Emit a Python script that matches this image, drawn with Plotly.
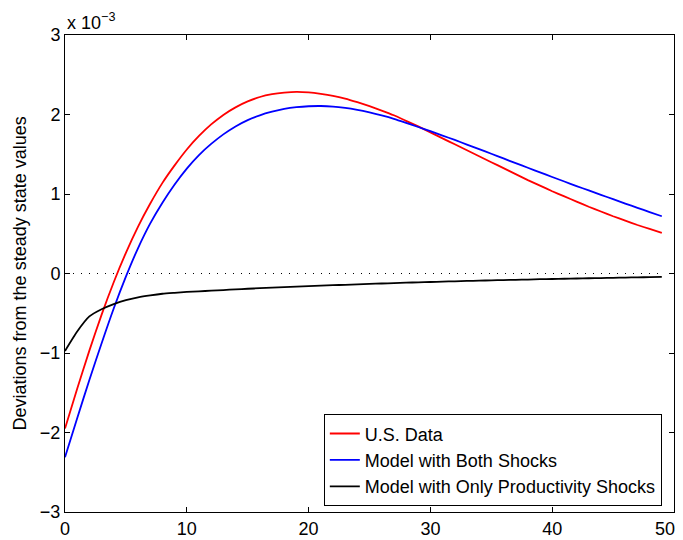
import plotly.graph_objects as go

t = list(range(50))

us_data = [-1.95, -1.45, -0.97, -0.52, -0.11, 0.26, 0.59, 0.88, 1.14, 1.36,
           1.56, 1.73, 1.875, 1.995, 2.09, 2.165, 2.22, 2.255, 2.275, 2.285,
           2.278, 2.26, 2.235, 2.20, 2.155, 2.105, 2.05, 1.99, 1.92, 1.85,
           1.775, 1.70, 1.625, 1.55, 1.475, 1.40, 1.325, 1.25, 1.175, 1.105,
           1.035, 0.97, 0.905, 0.84, 0.78, 0.72, 0.665, 0.61, 0.56, 0.51]

both_shocks = [-2.31, -1.82, -1.34, -0.88, -0.44, -0.04, 0.32, 0.63, 0.89, 1.12,
               1.32, 1.49, 1.63, 1.75, 1.85, 1.93, 1.99, 2.035, 2.07, 2.092,
               2.104, 2.107, 2.10, 2.083, 2.058, 2.026, 1.988, 1.945, 1.895, 1.843,
               1.79, 1.735, 1.68, 1.622, 1.564, 1.506, 1.447, 1.388, 1.33, 1.272,
               1.214, 1.157, 1.10, 1.045, 0.99, 0.935, 0.88, 0.826, 0.773, 0.72]

prod_only = [-0.975, -0.73, -0.54, -0.45, -0.385, -0.335, -0.30, -0.275, -0.255, -0.243,
             -0.232, -0.224, -0.216, -0.208, -0.200, -0.192, -0.185, -0.178, -0.171, -0.165,
             -0.159, -0.153, -0.147, -0.142, -0.136, -0.131, -0.126, -0.121, -0.116, -0.111,
             -0.107, -0.102, -0.098, -0.094, -0.090, -0.086, -0.083, -0.079, -0.076, -0.072,
             -0.069, -0.066, -0.063, -0.060, -0.057, -0.054, -0.051, -0.048, -0.046, -0.043]

zero_line = [0.0] * 50

x_ticks = [0, 10, 20, 30, 40, 50]
# trailing en spaces nudge the last label left so it stays inside the page
x_tick_labels = ["0", "10", "20", "30", "40", "50\u2002\u2002"]
y_ticks = [-3, -2, -1, 0, 1, 2, 3]
y_tick_labels = ["\u22123", "\u22122", "\u22121", "0", "1", "2", "3"]

FONT = "Liberation Sans, Arial, Helvetica, sans-serif"

fig = go.Figure()
fig.add_trace(go.Scatter(x=t, y=zero_line, mode="lines", showlegend=False,
                         line=dict(color="black", width=1, dash="1px,7px")))
fig.add_trace(go.Scatter(x=t, y=us_data, mode="lines", name="U.S. Data",
                         line=dict(color="#ff0000", width=1.8, shape="spline", smoothing=0.6)))
fig.add_trace(go.Scatter(x=t, y=both_shocks, mode="lines", name="Model with Both Shocks",
                         line=dict(color="#0000ff", width=1.8, shape="spline", smoothing=0.6)))
fig.add_trace(go.Scatter(x=t, y=prod_only, mode="lines",
                         name="Model with Only Productivity Shocks",
                         line=dict(color="black", width=1.8, shape="spline", smoothing=0.6)))

axis_common = dict(showgrid=False, zeroline=False, showline=True, linecolor="black",
                   linewidth=1, mirror="ticks", ticks="inside", ticklen=5,
                   tickcolor="black", automargin=False, ticklabeloverflow="allow",
                   tickfont=dict(family=FONT, size=18, color="black"))

# page body has an 8px default margin, so the figure is sized/placed to compensate
fig.update_layout(
    width=675, height=532,
    margin=dict(l=57, r=9, t=27, b=28),
    paper_bgcolor="white", plot_bgcolor="white",
    font=dict(family=FONT, size=18, color="black"),
    xaxis=dict(range=[0, 50], tickvals=x_ticks, ticktext=x_tick_labels, **axis_common),
    yaxis=dict(range=[-3, 3], tickvals=y_ticks, ticktext=y_tick_labels, **axis_common),
    legend=dict(x=0.980, y=0.012, xanchor="right", yanchor="bottom",
                bordercolor="black", borderwidth=1, bgcolor="white",
                font=dict(family=FONT, size=18), tracegroupgap=0),
    annotations=[
        dict(text="x 10<sup>\u22123</sup>", xref="paper", yref="paper",
             x=0, y=1, xanchor="left", yanchor="bottom", showarrow=False,
             yshift=0, font=dict(family=FONT, size=18)),
        dict(text="Deviations from the steady state values", xref="paper", yref="paper",
             x=-0.074, y=0.5, xanchor="center", yanchor="middle", textangle=-90,
             showarrow=False, font=dict(family=FONT, size=18)),
    ],
)

fig.write_html("out.html")
